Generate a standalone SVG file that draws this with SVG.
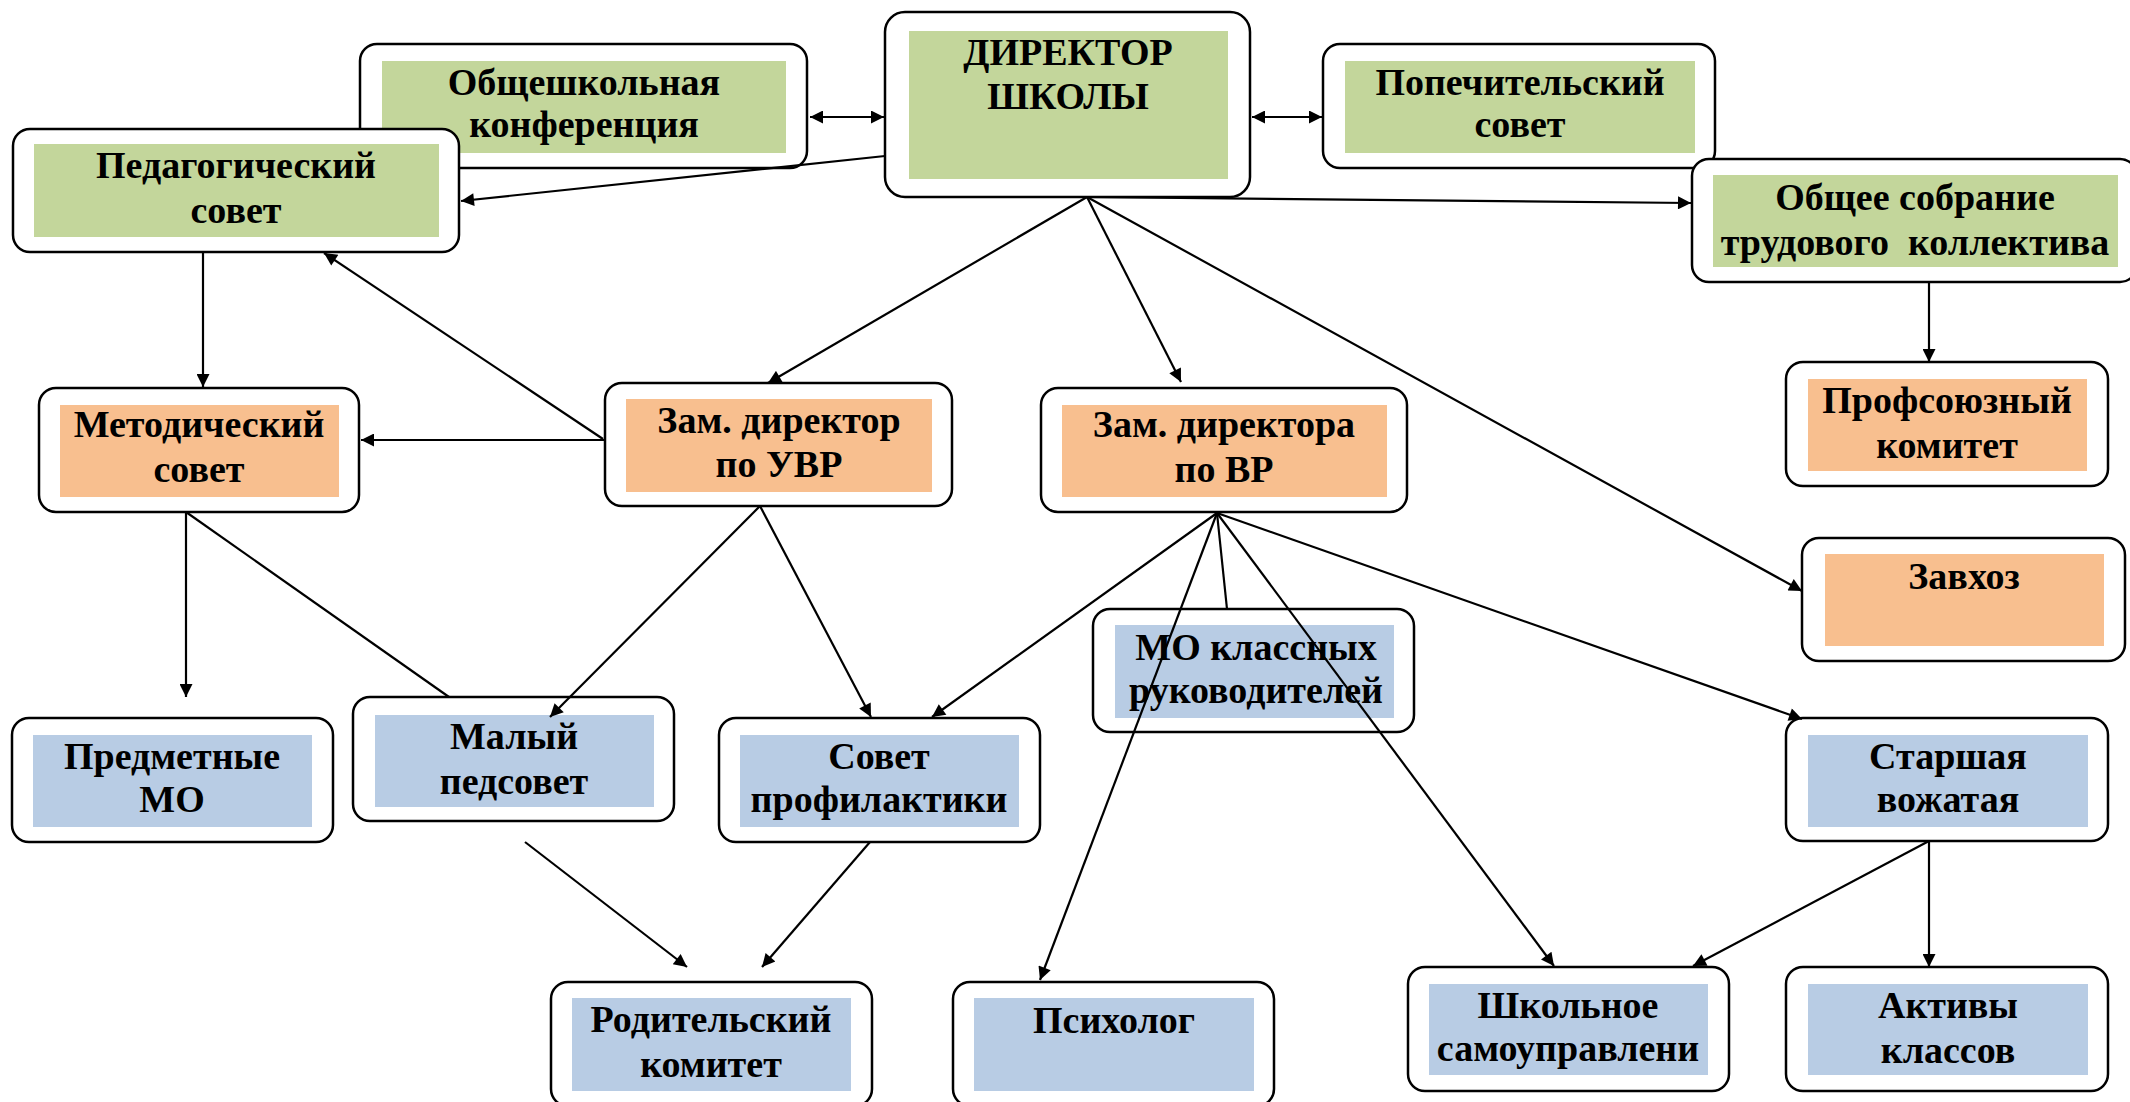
<svg xmlns="http://www.w3.org/2000/svg" width="2130" height="1102" viewBox="0 0 2130 1102">
<style>
.box{fill:#ffffff;stroke:#000000;stroke-width:2.5}
.g{fill:#C3D69B}
.o{fill:#F8BF8F}
.b{fill:#B8CCE4}
text{font-family:"Liberation Serif","Times New Roman",serif;font-weight:bold;font-size:38px;fill:#000000;text-anchor:middle}
.c line{stroke:#000000;stroke-width:2.2;fill:none}
</style>
<defs>
<marker id="ah" viewBox="0 0 10 10" refX="10" refY="5" markerWidth="16" markerHeight="13" markerUnits="userSpaceOnUse" orient="auto-start-reverse">
<path d="M0,0 L10,5 L0,10 z" fill="#000000"/>
</marker>
</defs>
<rect width="2130" height="1102" fill="#ffffff"/>

<g id="n-obshch-konf">
<rect class="box" x="360" y="44" width="447" height="124" rx="17"/>
<rect class="g" x="382" y="61" width="404" height="92"/>
<text x="584" y="95">Общешкольная</text>
<text x="584" y="137">конференция</text>
</g>
<g id="n-ped">
<rect class="box" x="13" y="129" width="446" height="123" rx="17"/>
<rect class="g" x="34" y="144" width="405" height="93"/>
<text x="236" y="178">Педагогический</text>
<text x="236" y="223">совет</text>
</g>
<g id="n-dir">
<rect class="box" x="885" y="12" width="365" height="185" rx="20"/>
<rect class="g" x="909" y="31" width="319" height="148"/>
<text x="1068" y="65">ДИРЕКТОР</text>
<text x="1068" y="109">ШКОЛЫ</text>
</g>
<g id="n-popech">
<rect class="box" x="1323" y="44" width="392" height="124" rx="17"/>
<rect class="g" x="1345" y="61" width="350" height="92"/>
<text x="1520" y="95">Попечительский</text>
<text x="1520" y="137">совет</text>
</g>
<g id="n-sobranie">
<rect class="box" x="1692" y="159" width="445" height="123" rx="17"/>
<rect class="g" x="1713" y="175" width="405" height="92"/>
<text x="1915" y="210">Общее собрание</text>
<text x="1915" y="255" xml:space="preserve">трудового  коллектива</text>
</g>
<g id="n-metod">
<rect class="box" x="39" y="388" width="320" height="124" rx="17"/>
<rect class="o" x="60" y="405" width="279" height="92"/>
<text x="199" y="437">Методический</text>
<text x="199" y="482">совет</text>
</g>
<g id="n-uvr">
<rect class="box" x="605" y="383" width="347" height="123" rx="17"/>
<rect class="o" x="626" y="399" width="306" height="93"/>
<text x="779" y="433">Зам. директор</text>
<text x="779" y="477">по УВР</text>
</g>
<g id="n-vr">
<rect class="box" x="1041" y="388" width="366" height="124" rx="17"/>
<rect class="o" x="1062" y="405" width="325" height="92"/>
<text x="1224" y="437">Зам. директора</text>
<text x="1224" y="482">по ВР</text>
</g>
<g id="n-profsoyuz">
<rect class="box" x="1786" y="362" width="322" height="124" rx="17"/>
<rect class="o" x="1808" y="379" width="279" height="92"/>
<text x="1947" y="413">Профсоюзный</text>
<text x="1947" y="458">комитет</text>
</g>
<g id="n-zavhoz">
<rect class="box" x="1802" y="538" width="323" height="123" rx="17"/>
<rect class="o" x="1825" y="554" width="279" height="92"/>
<text x="1964" y="589">Завхоз</text>
</g>
<g id="n-predmet">
<rect class="box" x="12" y="718" width="321" height="124" rx="17"/>
<rect class="b" x="33" y="735" width="279" height="92"/>
<text x="172" y="769">Предметные</text>
<text x="172" y="812">МО</text>
</g>
<g id="n-malyi">
<rect class="box" x="353" y="697" width="321" height="124" rx="17"/>
<rect class="b" x="375" y="715" width="279" height="92"/>
<text x="514" y="749">Малый</text>
<text x="514" y="794">педсовет</text>
</g>
<g id="n-profil">
<rect class="box" x="719" y="718" width="321" height="124" rx="17"/>
<rect class="b" x="740" y="735" width="279" height="92"/>
<text x="879" y="769">Совет</text>
<text x="879" y="812">профилактики</text>
</g>
<g id="n-mo-kl">
<rect class="box" x="1093" y="609" width="321" height="123" rx="17"/>
<rect class="b" x="1115" y="625" width="279" height="93"/>
<text x="1256" y="660">МО классных</text>
<text x="1256" y="703">руководителей</text>
</g>
<g id="n-starsh">
<rect class="box" x="1786" y="718" width="322" height="123" rx="17"/>
<rect class="b" x="1808" y="735" width="280" height="92"/>
<text x="1948" y="769">Старшая</text>
<text x="1948" y="812">вожатая</text>
</g>
<g id="n-rodit">
<rect class="box" x="551" y="982" width="321" height="124" rx="17"/>
<rect class="b" x="572" y="998" width="279" height="93"/>
<text x="711" y="1032">Родительский</text>
<text x="711" y="1077">комитет</text>
</g>
<g id="n-psih">
<rect class="box" x="953" y="982" width="321" height="124" rx="17"/>
<rect class="b" x="974" y="998" width="280" height="93"/>
<text x="1114" y="1033">Психолог</text>
</g>
<g id="n-shkol">
<rect class="box" x="1408" y="967" width="321" height="124" rx="17"/>
<rect class="b" x="1429" y="984" width="279" height="91"/>
<text x="1568" y="1018">Школьное</text>
<text x="1568" y="1061">самоуправлени</text>
</g>
<g id="n-aktiv">
<rect class="box" x="1786" y="967" width="322" height="124" rx="17"/>
<rect class="b" x="1808" y="984" width="280" height="91"/>
<text x="1948" y="1018">Активы</text>
<text x="1948" y="1063">классов</text>
</g>

<g id="connectors" class="c">
<line x1="810" y1="117" x2="884" y2="117" marker-start="url(#ah)" marker-end="url(#ah)"/>
<line x1="1252" y1="117" x2="1322" y2="117" marker-start="url(#ah)" marker-end="url(#ah)"/>
<line x1="885" y1="156" x2="461" y2="201" marker-end="url(#ah)"/>
<line x1="1087" y1="197" x2="1691" y2="203" marker-end="url(#ah)"/>
<line x1="1087" y1="197" x2="768" y2="383" marker-end="url(#ah)"/>
<line x1="1087" y1="197" x2="1181" y2="382" marker-end="url(#ah)"/>
<line x1="1087" y1="197" x2="1802" y2="591" marker-end="url(#ah)"/>
<line x1="203" y1="252" x2="203" y2="387" marker-end="url(#ah)"/>
<line x1="603" y1="439" x2="324" y2="253" marker-end="url(#ah)"/>
<line x1="604" y1="440" x2="361" y2="440" marker-end="url(#ah)"/>
<line x1="1929" y1="282" x2="1929" y2="362" marker-end="url(#ah)"/>
<line x1="186" y1="512" x2="186" y2="697" marker-end="url(#ah)"/>
<line x1="186" y1="512" x2="449" y2="697"/>
<line x1="760" y1="506" x2="550" y2="717" marker-end="url(#ah)"/>
<line x1="760" y1="506" x2="871" y2="717" marker-end="url(#ah)"/>
<line x1="1217" y1="513" x2="932" y2="717" marker-end="url(#ah)"/>
<line x1="1217" y1="513" x2="1227" y2="609"/>
<line x1="1217" y1="513" x2="1040" y2="980" marker-end="url(#ah)"/>
<line x1="1217" y1="513" x2="1554" y2="966" marker-end="url(#ah)"/>
<line x1="1217" y1="513" x2="1802" y2="719" marker-end="url(#ah)"/>
<line x1="525" y1="842" x2="687" y2="967" marker-end="url(#ah)"/>
<line x1="870" y1="842" x2="762" y2="967" marker-end="url(#ah)"/>
<line x1="1929" y1="841" x2="1929" y2="967" marker-end="url(#ah)"/>
<line x1="1929" y1="841" x2="1693" y2="966" marker-end="url(#ah)"/>
</g>
</svg>
